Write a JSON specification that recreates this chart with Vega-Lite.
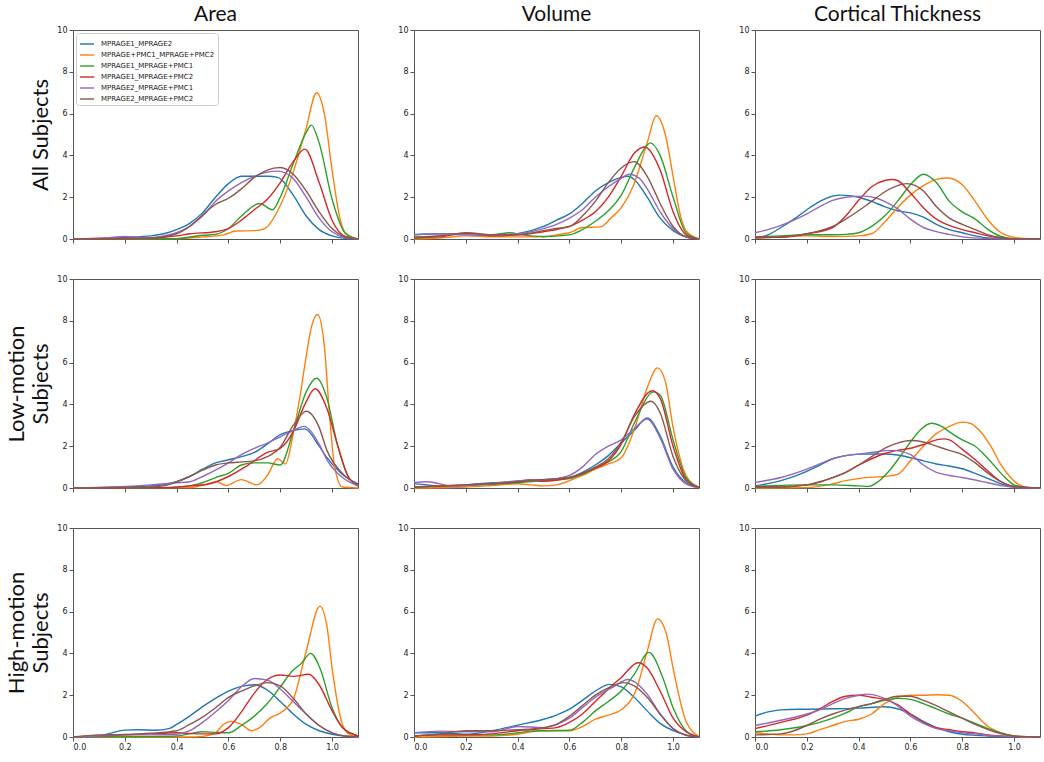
{
"$schema": "https://vega.github.io/schema/vega-lite/v6.json",
"padding": {"left": 5, "right": 2, "top": 3, "bottom": 1},
"background": "white",
"config": {
  "font": "DejaVu Sans",
  "view": {"stroke": "#555555", "strokeWidth": 1},
  "axis": {"domain": false, "grid": false, "tickColor": "#555555", "tickSize": 4, "labelFontSize": 8, "labelColor": "#222222", "labelPadding": 2, "titleFont": "Lato", "titleFontSize": 22, "titleFontWeight": "normal", "titleColor": "#111111", "titlePadding": 4},
  "title": {"font": "Lato", "fontSize": 21, "fontWeight": "normal", "color": "#111111", "offset": 1, "anchor": "middle"},
  "line": {"strokeWidth": 1.4, "interpolate": "monotone"}
},
"columns": 3,
"spacing": {"row": 30, "column": 35},
"resolve": {"scale": {"color": "independent"}, "legend": {"color": "independent"}},
"datasets": {
"names": [{"s":"A","series":"MPRAGE1_MPRAGE2"},{"s":"B","series":"MPRAGE+PMC1_MPRAGE+PMC2"},{"s":"C","series":"MPRAGE1_MPRAGE+PMC1"},{"s":"D","series":"MPRAGE1_MPRAGE+PMC2"},{"s":"E","series":"MPRAGE2_MPRAGE+PMC1"},{"s":"F","series":"MPRAGE2_MPRAGE+PMC2"}],
"a_all": [
{"s":"A","x":0,"y":0},{"s":"A","x":0.1,"y":0.02},{"s":"A","x":0.2,"y":0.08},{"s":"A","x":0.3,"y":0.15},{"s":"A","x":0.35,"y":0.25},{"s":"A","x":0.4,"y":0.45},{"s":"A","x":0.45,"y":0.75},{"s":"A","x":0.5,"y":1.25},{"s":"A","x":0.55,"y":2.0},{"s":"A","x":0.6,"y":2.65},{"s":"A","x":0.65,"y":3.0},{"s":"A","x":0.7,"y":3.0},{"s":"A","x":0.75,"y":3.0},{"s":"A","x":0.79,"y":2.95},{"s":"A","x":0.85,"y":2.1},{"s":"A","x":0.9,"y":1.1},{"s":"A","x":0.95,"y":0.45},{"s":"A","x":1.0,"y":0.15},{"s":"A","x":1.05,"y":0.03},{"s":"A","x":1.1,"y":0},
{"s":"B","x":0,"y":0},{"s":"B","x":0.4,"y":0.02},{"s":"B","x":0.5,"y":0.1},{"s":"B","x":0.58,"y":0.2},{"s":"B","x":0.63,"y":0.38},{"s":"B","x":0.7,"y":0.4},{"s":"B","x":0.74,"y":0.5},{"s":"B","x":0.8,"y":1.6},{"s":"B","x":0.85,"y":3.2},{"s":"B","x":0.9,"y":5.3},{"s":"B","x":0.94,"y":7.0},{"s":"B","x":0.97,"y":6.0},{"s":"B","x":1.0,"y":3.3},{"s":"B","x":1.03,"y":1.0},{"s":"B","x":1.06,"y":0.15},{"s":"B","x":1.1,"y":0},
{"s":"C","x":0,"y":0},{"s":"C","x":0.4,"y":0.02},{"s":"C","x":0.5,"y":0.18},{"s":"C","x":0.55,"y":0.22},{"s":"C","x":0.6,"y":0.5},{"s":"C","x":0.65,"y":1.1},{"s":"C","x":0.72,"y":1.7},{"s":"C","x":0.77,"y":1.4},{"s":"C","x":0.8,"y":2.0},{"s":"C","x":0.85,"y":3.6},{"s":"C","x":0.9,"y":5.1},{"s":"C","x":0.92,"y":5.45},{"s":"C","x":0.95,"y":4.6},{"s":"C","x":1.0,"y":1.9},{"s":"C","x":1.05,"y":0.3},{"s":"C","x":1.1,"y":0},
{"s":"D","x":0,"y":0},{"s":"D","x":0.3,"y":0.05},{"s":"D","x":0.4,"y":0.15},{"s":"D","x":0.45,"y":0.25},{"s":"D","x":0.55,"y":0.35},{"s":"D","x":0.6,"y":0.5},{"s":"D","x":0.65,"y":0.9},{"s":"D","x":0.7,"y":1.4},{"s":"D","x":0.75,"y":1.9},{"s":"D","x":0.8,"y":2.7},{"s":"D","x":0.85,"y":3.7},{"s":"D","x":0.895,"y":4.3},{"s":"D","x":0.95,"y":2.7},{"s":"D","x":1.0,"y":0.9},{"s":"D","x":1.05,"y":0.12},{"s":"D","x":1.1,"y":0},
{"s":"E","x":0,"y":0},{"s":"E","x":0.15,"y":0.08},{"s":"E","x":0.2,"y":0.12},{"s":"E","x":0.28,"y":0.05},{"s":"E","x":0.35,"y":0.15},{"s":"E","x":0.4,"y":0.3},{"s":"E","x":0.45,"y":0.6},{"s":"E","x":0.5,"y":1.1},{"s":"E","x":0.55,"y":1.8},{"s":"E","x":0.6,"y":2.3},{"s":"E","x":0.65,"y":2.7},{"s":"E","x":0.7,"y":3.0},{"s":"E","x":0.75,"y":3.2},{"s":"E","x":0.79,"y":3.25},{"s":"E","x":0.85,"y":2.9},{"s":"E","x":0.9,"y":2.0},{"s":"E","x":0.95,"y":1.0},{"s":"E","x":1.0,"y":0.35},{"s":"E","x":1.05,"y":0.07},{"s":"E","x":1.1,"y":0},
{"s":"F","x":0,"y":0},{"s":"F","x":0.3,"y":0.05},{"s":"F","x":0.4,"y":0.25},{"s":"F","x":0.45,"y":0.6},{"s":"F","x":0.5,"y":1.15},{"s":"F","x":0.55,"y":1.65},{"s":"F","x":0.6,"y":1.95},{"s":"F","x":0.65,"y":2.4},{"s":"F","x":0.7,"y":2.95},{"s":"F","x":0.75,"y":3.3},{"s":"F","x":0.8,"y":3.42},{"s":"F","x":0.85,"y":3.1},{"s":"F","x":0.9,"y":2.3},{"s":"F","x":0.95,"y":1.3},{"s":"F","x":1.0,"y":0.5},{"s":"F","x":1.05,"y":0.1},{"s":"F","x":1.1,"y":0}
],
"v_all": [
{"s":"A","x":0,"y":0.2},{"s":"A","x":0.1,"y":0.25},{"s":"A","x":0.2,"y":0.22},{"s":"A","x":0.3,"y":0.15},{"s":"A","x":0.4,"y":0.25},{"s":"A","x":0.5,"y":0.6},{"s":"A","x":0.55,"y":0.9},{"s":"A","x":0.6,"y":1.2},{"s":"A","x":0.65,"y":1.7},{"s":"A","x":0.7,"y":2.3},{"s":"A","x":0.75,"y":2.7},{"s":"A","x":0.8,"y":2.95},{"s":"A","x":0.825,"y":3.0},{"s":"A","x":0.85,"y":2.85},{"s":"A","x":0.9,"y":2.0},{"s":"A","x":0.95,"y":1.0},{"s":"A","x":1.0,"y":0.4},{"s":"A","x":1.05,"y":0.1},{"s":"A","x":1.1,"y":0},
{"s":"B","x":0,"y":0},{"s":"B","x":0.1,"y":0.05},{"s":"B","x":0.2,"y":0.15},{"s":"B","x":0.3,"y":0.1},{"s":"B","x":0.4,"y":0.1},{"s":"B","x":0.5,"y":0.1},{"s":"B","x":0.55,"y":0.2},{"s":"B","x":0.6,"y":0.3},{"s":"B","x":0.65,"y":0.55},{"s":"B","x":0.72,"y":0.58},{"s":"B","x":0.76,"y":1.0},{"s":"B","x":0.8,"y":1.5},{"s":"B","x":0.845,"y":2.5},{"s":"B","x":0.9,"y":4.6},{"s":"B","x":0.935,"y":5.9},{"s":"B","x":0.97,"y":5.0},{"s":"B","x":1.0,"y":3.0},{"s":"B","x":1.025,"y":1.3},{"s":"B","x":1.05,"y":0.4},{"s":"B","x":1.1,"y":0},
{"s":"C","x":0,"y":0.1},{"s":"C","x":0.1,"y":0.15},{"s":"C","x":0.2,"y":0.25},{"s":"C","x":0.3,"y":0.2},{"s":"C","x":0.37,"y":0.3},{"s":"C","x":0.42,"y":0.2},{"s":"C","x":0.5,"y":0.12},{"s":"C","x":0.6,"y":0.2},{"s":"C","x":0.65,"y":0.45},{"s":"C","x":0.7,"y":0.85},{"s":"C","x":0.75,"y":1.35},{"s":"C","x":0.8,"y":2.1},{"s":"C","x":0.85,"y":3.4},{"s":"C","x":0.9,"y":4.5},{"s":"C","x":0.912,"y":4.6},{"s":"C","x":0.95,"y":4.0},{"s":"C","x":1.0,"y":2.0},{"s":"C","x":1.05,"y":0.3},{"s":"C","x":1.1,"y":0},
{"s":"D","x":0,"y":0.05},{"s":"D","x":0.1,"y":0.15},{"s":"D","x":0.2,"y":0.28},{"s":"D","x":0.3,"y":0.15},{"s":"D","x":0.4,"y":0.2},{"s":"D","x":0.5,"y":0.35},{"s":"D","x":0.55,"y":0.45},{"s":"D","x":0.6,"y":0.6},{"s":"D","x":0.65,"y":0.9},{"s":"D","x":0.7,"y":1.3},{"s":"D","x":0.75,"y":2.0},{"s":"D","x":0.8,"y":3.0},{"s":"D","x":0.85,"y":4.1},{"s":"D","x":0.89,"y":4.4},{"s":"D","x":0.95,"y":3.3},{"s":"D","x":1.0,"y":1.3},{"s":"D","x":1.05,"y":0.2},{"s":"D","x":1.1,"y":0},
{"s":"E","x":0,"y":0.2},{"s":"E","x":0.1,"y":0.25},{"s":"E","x":0.2,"y":0.2},{"s":"E","x":0.3,"y":0.2},{"s":"E","x":0.4,"y":0.25},{"s":"E","x":0.5,"y":0.5},{"s":"E","x":0.55,"y":0.7},{"s":"E","x":0.6,"y":1.0},{"s":"E","x":0.65,"y":1.4},{"s":"E","x":0.7,"y":2.0},{"s":"E","x":0.75,"y":2.5},{"s":"E","x":0.8,"y":2.9},{"s":"E","x":0.83,"y":3.1},{"s":"E","x":0.87,"y":2.9},{"s":"E","x":0.9,"y":2.4},{"s":"E","x":0.95,"y":1.3},{"s":"E","x":1.0,"y":0.5},{"s":"E","x":1.05,"y":0.1},{"s":"E","x":1.1,"y":0},
{"s":"F","x":0,"y":0.05},{"s":"F","x":0.1,"y":0.1},{"s":"F","x":0.2,"y":0.3},{"s":"F","x":0.3,"y":0.2},{"s":"F","x":0.4,"y":0.2},{"s":"F","x":0.5,"y":0.4},{"s":"F","x":0.55,"y":0.5},{"s":"F","x":0.6,"y":0.6},{"s":"F","x":0.65,"y":1.1},{"s":"F","x":0.7,"y":1.8},{"s":"F","x":0.75,"y":2.7},{"s":"F","x":0.8,"y":3.4},{"s":"F","x":0.85,"y":3.7},{"s":"F","x":0.9,"y":3.0},{"s":"F","x":0.95,"y":1.7},{"s":"F","x":1.0,"y":0.6},{"s":"F","x":1.05,"y":0.1},{"s":"F","x":1.1,"y":0}
],
"c_all": [
{"s":"A","x":0,"y":0.05},{"s":"A","x":0.05,"y":0.2},{"s":"A","x":0.1,"y":0.55},{"s":"A","x":0.15,"y":0.95},{"s":"A","x":0.2,"y":1.4},{"s":"A","x":0.25,"y":1.8},{"s":"A","x":0.3,"y":2.05},{"s":"A","x":0.33,"y":2.1},{"s":"A","x":0.4,"y":2.0},{"s":"A","x":0.45,"y":1.8},{"s":"A","x":0.5,"y":1.55},{"s":"A","x":0.55,"y":1.35},{"s":"A","x":0.6,"y":1.25},{"s":"A","x":0.65,"y":1.05},{"s":"A","x":0.7,"y":0.7},{"s":"A","x":0.75,"y":0.45},{"s":"A","x":0.8,"y":0.3},{"s":"A","x":0.85,"y":0.15},{"s":"A","x":0.9,"y":0.05},{"s":"A","x":1.0,"y":0},{"s":"A","x":1.1,"y":0},
{"s":"B","x":0,"y":0.05},{"s":"B","x":0.1,"y":0.1},{"s":"B","x":0.2,"y":0.15},{"s":"B","x":0.3,"y":0.12},{"s":"B","x":0.4,"y":0.15},{"s":"B","x":0.45,"y":0.25},{"s":"B","x":0.5,"y":0.8},{"s":"B","x":0.55,"y":1.5},{"s":"B","x":0.6,"y":2.1},{"s":"B","x":0.65,"y":2.55},{"s":"B","x":0.7,"y":2.85},{"s":"B","x":0.745,"y":2.92},{"s":"B","x":0.8,"y":2.6},{"s":"B","x":0.85,"y":1.8},{"s":"B","x":0.9,"y":0.9},{"s":"B","x":0.95,"y":0.3},{"s":"B","x":1.0,"y":0.08},{"s":"B","x":1.05,"y":0.02},{"s":"B","x":1.1,"y":0},
{"s":"C","x":0,"y":0.1},{"s":"C","x":0.1,"y":0.15},{"s":"C","x":0.2,"y":0.2},{"s":"C","x":0.3,"y":0.2},{"s":"C","x":0.35,"y":0.22},{"s":"C","x":0.4,"y":0.3},{"s":"C","x":0.45,"y":0.6},{"s":"C","x":0.5,"y":1.1},{"s":"C","x":0.55,"y":1.8},{"s":"C","x":0.6,"y":2.6},{"s":"C","x":0.65,"y":3.1},{"s":"C","x":0.7,"y":2.7},{"s":"C","x":0.75,"y":1.8},{"s":"C","x":0.8,"y":1.3},{"s":"C","x":0.85,"y":0.95},{"s":"C","x":0.9,"y":0.45},{"s":"C","x":0.95,"y":0.12},{"s":"C","x":1.0,"y":0.02},{"s":"C","x":1.1,"y":0},
{"s":"D","x":0,"y":0.1},{"s":"D","x":0.1,"y":0.08},{"s":"D","x":0.2,"y":0.25},{"s":"D","x":0.3,"y":0.55},{"s":"D","x":0.35,"y":1.1},{"s":"D","x":0.4,"y":1.85},{"s":"D","x":0.45,"y":2.5},{"s":"D","x":0.5,"y":2.8},{"s":"D","x":0.53,"y":2.85},{"s":"D","x":0.55,"y":2.8},{"s":"D","x":0.6,"y":2.2},{"s":"D","x":0.65,"y":1.5},{"s":"D","x":0.7,"y":0.95},{"s":"D","x":0.75,"y":0.65},{"s":"D","x":0.8,"y":0.45},{"s":"D","x":0.85,"y":0.3},{"s":"D","x":0.9,"y":0.15},{"s":"D","x":0.95,"y":0.05},{"s":"D","x":1.0,"y":0},{"s":"D","x":1.1,"y":0},
{"s":"E","x":0,"y":0.3},{"s":"E","x":0.05,"y":0.45},{"s":"E","x":0.1,"y":0.65},{"s":"E","x":0.15,"y":0.9},{"s":"E","x":0.2,"y":1.2},{"s":"E","x":0.25,"y":1.55},{"s":"E","x":0.3,"y":1.85},{"s":"E","x":0.35,"y":2.0},{"s":"E","x":0.42,"y":2.05},{"s":"E","x":0.47,"y":1.95},{"s":"E","x":0.5,"y":1.8},{"s":"E","x":0.55,"y":1.45},{"s":"E","x":0.6,"y":0.95},{"s":"E","x":0.65,"y":0.55},{"s":"E","x":0.7,"y":0.35},{"s":"E","x":0.75,"y":0.22},{"s":"E","x":0.8,"y":0.1},{"s":"E","x":0.9,"y":0.02},{"s":"E","x":1.0,"y":0},{"s":"E","x":1.1,"y":0},
{"s":"F","x":0,"y":0.05},{"s":"F","x":0.1,"y":0.1},{"s":"F","x":0.2,"y":0.25},{"s":"F","x":0.3,"y":0.6},{"s":"F","x":0.35,"y":0.95},{"s":"F","x":0.4,"y":1.35},{"s":"F","x":0.45,"y":1.8},{"s":"F","x":0.5,"y":2.25},{"s":"F","x":0.55,"y":2.55},{"s":"F","x":0.585,"y":2.65},{"s":"F","x":0.65,"y":2.3},{"s":"F","x":0.7,"y":1.55},{"s":"F","x":0.75,"y":1.0},{"s":"F","x":0.8,"y":0.7},{"s":"F","x":0.85,"y":0.45},{"s":"F","x":0.9,"y":0.2},{"s":"F","x":0.95,"y":0.06},{"s":"F","x":1.0,"y":0},{"s":"F","x":1.1,"y":0}
],
"a_low": [
{"s":"A","x":0,"y":0},{"s":"A","x":0.1,"y":0.02},{"s":"A","x":0.2,"y":0.05},{"s":"A","x":0.3,"y":0.1},{"s":"A","x":0.4,"y":0.3},{"s":"A","x":0.45,"y":0.55},{"s":"A","x":0.5,"y":0.9},{"s":"A","x":0.55,"y":1.2},{"s":"A","x":0.6,"y":1.35},{"s":"A","x":0.65,"y":1.5},{"s":"A","x":0.7,"y":1.7},{"s":"A","x":0.75,"y":2.1},{"s":"A","x":0.8,"y":2.55},{"s":"A","x":0.85,"y":2.75},{"s":"A","x":0.895,"y":2.83},{"s":"A","x":0.95,"y":2.0},{"s":"A","x":0.98,"y":1.45},{"s":"A","x":1.04,"y":0.65},{"s":"A","x":1.1,"y":0.2},
{"s":"B","x":0,"y":0},{"s":"B","x":0.45,"y":0.02},{"s":"B","x":0.52,"y":0.2},{"s":"B","x":0.555,"y":0.3},{"s":"B","x":0.59,"y":0.12},{"s":"B","x":0.65,"y":0.4},{"s":"B","x":0.71,"y":0.15},{"s":"B","x":0.75,"y":0.6},{"s":"B","x":0.79,"y":1.4},{"s":"B","x":0.82,"y":1.15},{"s":"B","x":0.85,"y":2.6},{"s":"B","x":0.875,"y":4.3},{"s":"B","x":0.9,"y":6.3},{"s":"B","x":0.92,"y":7.7},{"s":"B","x":0.944,"y":8.3},{"s":"B","x":0.97,"y":6.8},{"s":"B","x":0.99,"y":3.5},{"s":"B","x":1.01,"y":1.0},{"s":"B","x":1.04,"y":0.05},{"s":"B","x":1.1,"y":0},
{"s":"C","x":0,"y":0},{"s":"C","x":0.35,"y":0.02},{"s":"C","x":0.45,"y":0.1},{"s":"C","x":0.5,"y":0.25},{"s":"C","x":0.55,"y":0.5},{"s":"C","x":0.6,"y":0.7},{"s":"C","x":0.65,"y":1.1},{"s":"C","x":0.7,"y":1.2},{"s":"C","x":0.75,"y":1.2},{"s":"C","x":0.8,"y":1.1},{"s":"C","x":0.85,"y":2.7},{"s":"C","x":0.9,"y":4.6},{"s":"C","x":0.94,"y":5.25},{"s":"C","x":0.98,"y":4.3},{"s":"C","x":1.02,"y":2.1},{"s":"C","x":1.06,"y":0.6},{"s":"C","x":1.1,"y":0.1},
{"s":"D","x":0,"y":0},{"s":"D","x":0.35,"y":0.02},{"s":"D","x":0.45,"y":0.1},{"s":"D","x":0.52,"y":0.18},{"s":"D","x":0.6,"y":0.55},{"s":"D","x":0.67,"y":1.05},{"s":"D","x":0.75,"y":1.7},{"s":"D","x":0.8,"y":1.9},{"s":"D","x":0.85,"y":2.7},{"s":"D","x":0.895,"y":4.0},{"s":"D","x":0.934,"y":4.75},{"s":"D","x":0.98,"y":3.8},{"s":"D","x":1.02,"y":2.1},{"s":"D","x":1.06,"y":0.6},{"s":"D","x":1.1,"y":0.1},
{"s":"E","x":0,"y":0},{"s":"E","x":0.15,"y":0.05},{"s":"E","x":0.3,"y":0.15},{"s":"E","x":0.4,"y":0.25},{"s":"E","x":0.45,"y":0.3},{"s":"E","x":0.5,"y":0.55},{"s":"E","x":0.55,"y":0.85},{"s":"E","x":0.6,"y":1.2},{"s":"E","x":0.65,"y":1.6},{"s":"E","x":0.7,"y":1.9},{"s":"E","x":0.75,"y":2.15},{"s":"E","x":0.8,"y":2.45},{"s":"E","x":0.85,"y":2.75},{"s":"E","x":0.89,"y":2.95},{"s":"E","x":0.95,"y":2.1},{"s":"E","x":0.98,"y":1.35},{"s":"E","x":1.04,"y":0.5},{"s":"E","x":1.1,"y":0.1},
{"s":"F","x":0,"y":0},{"s":"F","x":0.3,"y":0.05},{"s":"F","x":0.35,"y":0.1},{"s":"F","x":0.4,"y":0.3},{"s":"F","x":0.45,"y":0.55},{"s":"F","x":0.5,"y":0.85},{"s":"F","x":0.55,"y":1.1},{"s":"F","x":0.6,"y":1.2},{"s":"F","x":0.65,"y":1.25},{"s":"F","x":0.7,"y":1.3},{"s":"F","x":0.75,"y":1.5},{"s":"F","x":0.8,"y":1.95},{"s":"F","x":0.85,"y":3.0},{"s":"F","x":0.9,"y":3.67},{"s":"F","x":0.95,"y":2.9},{"s":"F","x":0.98,"y":1.8},{"s":"F","x":1.04,"y":0.7},{"s":"F","x":1.1,"y":0.15}
],
"v_low": [
{"s":"A","x":0,"y":0.2},{"s":"A","x":0.05,"y":0.15},{"s":"A","x":0.1,"y":0.08},{"s":"A","x":0.2,"y":0.15},{"s":"A","x":0.3,"y":0.25},{"s":"A","x":0.4,"y":0.3},{"s":"A","x":0.5,"y":0.4},{"s":"A","x":0.6,"y":0.5},{"s":"A","x":0.65,"y":0.75},{"s":"A","x":0.7,"y":1.1},{"s":"A","x":0.75,"y":1.55},{"s":"A","x":0.8,"y":2.15},{"s":"A","x":0.85,"y":2.75},{"s":"A","x":0.9,"y":3.35},{"s":"A","x":0.95,"y":2.5},{"s":"A","x":1.0,"y":1.0},{"s":"A","x":1.05,"y":0.25},{"s":"A","x":1.1,"y":0.02},
{"s":"B","x":0,"y":0},{"s":"B","x":0.2,"y":0.05},{"s":"B","x":0.3,"y":0.12},{"s":"B","x":0.4,"y":0.2},{"s":"B","x":0.45,"y":0.15},{"s":"B","x":0.5,"y":0.1},{"s":"B","x":0.55,"y":0.15},{"s":"B","x":0.6,"y":0.35},{"s":"B","x":0.65,"y":0.6},{"s":"B","x":0.7,"y":0.9},{"s":"B","x":0.75,"y":1.15},{"s":"B","x":0.8,"y":1.45},{"s":"B","x":0.85,"y":2.8},{"s":"B","x":0.9,"y":4.8},{"s":"B","x":0.94,"y":5.75},{"s":"B","x":0.97,"y":5.1},{"s":"B","x":1.0,"y":2.9},{"s":"B","x":1.05,"y":0.6},{"s":"B","x":1.1,"y":0.03},
{"s":"C","x":0,"y":0.05},{"s":"C","x":0.1,"y":0.08},{"s":"C","x":0.2,"y":0.12},{"s":"C","x":0.3,"y":0.18},{"s":"C","x":0.4,"y":0.25},{"s":"C","x":0.5,"y":0.35},{"s":"C","x":0.6,"y":0.45},{"s":"C","x":0.65,"y":0.65},{"s":"C","x":0.7,"y":0.95},{"s":"C","x":0.75,"y":1.25},{"s":"C","x":0.8,"y":1.75},{"s":"C","x":0.85,"y":3.1},{"s":"C","x":0.925,"y":4.6},{"s":"C","x":0.95,"y":4.45},{"s":"C","x":1.0,"y":2.3},{"s":"C","x":1.05,"y":0.5},{"s":"C","x":1.1,"y":0.03},
{"s":"D","x":0,"y":0.05},{"s":"D","x":0.1,"y":0.1},{"s":"D","x":0.2,"y":0.15},{"s":"D","x":0.3,"y":0.2},{"s":"D","x":0.4,"y":0.3},{"s":"D","x":0.45,"y":0.4},{"s":"D","x":0.5,"y":0.32},{"s":"D","x":0.6,"y":0.5},{"s":"D","x":0.65,"y":0.7},{"s":"D","x":0.7,"y":0.95},{"s":"D","x":0.75,"y":1.3},{"s":"D","x":0.8,"y":2.1},{"s":"D","x":0.85,"y":3.5},{"s":"D","x":0.92,"y":4.65},{"s":"D","x":0.95,"y":4.3},{"s":"D","x":1.0,"y":2.0},{"s":"D","x":1.05,"y":0.4},{"s":"D","x":1.1,"y":0.03},
{"s":"E","x":0,"y":0.25},{"s":"E","x":0.05,"y":0.3},{"s":"E","x":0.1,"y":0.2},{"s":"E","x":0.15,"y":0.08},{"s":"E","x":0.2,"y":0.12},{"s":"E","x":0.3,"y":0.2},{"s":"E","x":0.4,"y":0.35},{"s":"E","x":0.5,"y":0.4},{"s":"E","x":0.55,"y":0.45},{"s":"E","x":0.6,"y":0.6},{"s":"E","x":0.65,"y":1.0},{"s":"E","x":0.7,"y":1.6},{"s":"E","x":0.75,"y":2.0},{"s":"E","x":0.8,"y":2.3},{"s":"E","x":0.85,"y":2.85},{"s":"E","x":0.9,"y":3.3},{"s":"E","x":0.95,"y":2.4},{"s":"E","x":1.0,"y":0.9},{"s":"E","x":1.05,"y":0.2},{"s":"E","x":1.1,"y":0.02},
{"s":"F","x":0,"y":0.05},{"s":"F","x":0.1,"y":0.1},{"s":"F","x":0.2,"y":0.15},{"s":"F","x":0.3,"y":0.2},{"s":"F","x":0.4,"y":0.3},{"s":"F","x":0.5,"y":0.4},{"s":"F","x":0.6,"y":0.5},{"s":"F","x":0.65,"y":0.7},{"s":"F","x":0.7,"y":1.0},{"s":"F","x":0.75,"y":1.4},{"s":"F","x":0.8,"y":2.2},{"s":"F","x":0.85,"y":3.4},{"s":"F","x":0.915,"y":4.15},{"s":"F","x":0.95,"y":3.6},{"s":"F","x":1.0,"y":1.5},{"s":"F","x":1.05,"y":0.35},{"s":"F","x":1.1,"y":0.03}
],
"c_low": [
{"s":"A","x":0,"y":0.1},{"s":"A","x":0.1,"y":0.35},{"s":"A","x":0.2,"y":0.8},{"s":"A","x":0.25,"y":1.1},{"s":"A","x":0.3,"y":1.4},{"s":"A","x":0.35,"y":1.55},{"s":"A","x":0.4,"y":1.62},{"s":"A","x":0.5,"y":1.63},{"s":"A","x":0.55,"y":1.58},{"s":"A","x":0.6,"y":1.45},{"s":"A","x":0.65,"y":1.3},{"s":"A","x":0.7,"y":1.15},{"s":"A","x":0.75,"y":1.05},{"s":"A","x":0.8,"y":0.92},{"s":"A","x":0.85,"y":0.7},{"s":"A","x":0.9,"y":0.45},{"s":"A","x":0.95,"y":0.2},{"s":"A","x":1.0,"y":0.05},{"s":"A","x":1.1,"y":0},
{"s":"B","x":0,"y":0},{"s":"B","x":0.2,"y":0.02},{"s":"B","x":0.3,"y":0.2},{"s":"B","x":0.35,"y":0.35},{"s":"B","x":0.4,"y":0.45},{"s":"B","x":0.45,"y":0.52},{"s":"B","x":0.5,"y":0.55},{"s":"B","x":0.55,"y":0.65},{"s":"B","x":0.6,"y":1.3},{"s":"B","x":0.65,"y":2.0},{"s":"B","x":0.7,"y":2.6},{"s":"B","x":0.75,"y":2.95},{"s":"B","x":0.8,"y":3.15},{"s":"B","x":0.83,"y":3.1},{"s":"B","x":0.87,"y":2.7},{"s":"B","x":0.91,"y":2.0},{"s":"B","x":0.95,"y":1.1},{"s":"B","x":0.98,"y":0.6},{"s":"B","x":1.02,"y":0.15},{"s":"B","x":1.06,"y":0.02},{"s":"B","x":1.1,"y":0},
{"s":"C","x":0,"y":0.08},{"s":"C","x":0.2,"y":0.15},{"s":"C","x":0.3,"y":0.15},{"s":"C","x":0.4,"y":0.1},{"s":"C","x":0.44,"y":0.08},{"s":"C","x":0.48,"y":0.35},{"s":"C","x":0.52,"y":0.85},{"s":"C","x":0.56,"y":1.5},{"s":"C","x":0.6,"y":2.2},{"s":"C","x":0.64,"y":2.8},{"s":"C","x":0.68,"y":3.1},{"s":"C","x":0.72,"y":2.95},{"s":"C","x":0.76,"y":2.6},{"s":"C","x":0.8,"y":2.3},{"s":"C","x":0.85,"y":2.0},{"s":"C","x":0.9,"y":1.4},{"s":"C","x":0.95,"y":0.7},{"s":"C","x":1.0,"y":0.15},{"s":"C","x":1.05,"y":0.02},{"s":"C","x":1.1,"y":0},
{"s":"D","x":0,"y":0.05},{"s":"D","x":0.1,"y":0.05},{"s":"D","x":0.2,"y":0.15},{"s":"D","x":0.25,"y":0.28},{"s":"D","x":0.3,"y":0.5},{"s":"D","x":0.35,"y":0.75},{"s":"D","x":0.4,"y":1.1},{"s":"D","x":0.45,"y":1.4},{"s":"D","x":0.5,"y":1.65},{"s":"D","x":0.55,"y":1.8},{"s":"D","x":0.6,"y":1.9},{"s":"D","x":0.65,"y":2.08},{"s":"D","x":0.7,"y":2.3},{"s":"D","x":0.73,"y":2.35},{"s":"D","x":0.75,"y":2.3},{"s":"D","x":0.8,"y":1.85},{"s":"D","x":0.85,"y":1.35},{"s":"D","x":0.9,"y":0.8},{"s":"D","x":0.95,"y":0.3},{"s":"D","x":1.0,"y":0.07},{"s":"D","x":1.1,"y":0},
{"s":"E","x":0,"y":0.27},{"s":"E","x":0.1,"y":0.5},{"s":"E","x":0.2,"y":0.9},{"s":"E","x":0.25,"y":1.15},{"s":"E","x":0.3,"y":1.4},{"s":"E","x":0.35,"y":1.55},{"s":"E","x":0.4,"y":1.62},{"s":"E","x":0.45,"y":1.7},{"s":"E","x":0.53,"y":1.8},{"s":"E","x":0.6,"y":1.6},{"s":"E","x":0.65,"y":1.1},{"s":"E","x":0.7,"y":0.75},{"s":"E","x":0.75,"y":0.6},{"s":"E","x":0.8,"y":0.5},{"s":"E","x":0.85,"y":0.38},{"s":"E","x":0.9,"y":0.25},{"s":"E","x":0.95,"y":0.12},{"s":"E","x":1.0,"y":0.03},{"s":"E","x":1.1,"y":0},
{"s":"F","x":0,"y":0.05},{"s":"F","x":0.1,"y":0.05},{"s":"F","x":0.2,"y":0.15},{"s":"F","x":0.25,"y":0.3},{"s":"F","x":0.3,"y":0.5},{"s":"F","x":0.35,"y":0.75},{"s":"F","x":0.4,"y":1.1},{"s":"F","x":0.45,"y":1.5},{"s":"F","x":0.5,"y":1.9},{"s":"F","x":0.55,"y":2.15},{"s":"F","x":0.6,"y":2.27},{"s":"F","x":0.65,"y":2.2},{"s":"F","x":0.7,"y":2.0},{"s":"F","x":0.75,"y":1.8},{"s":"F","x":0.8,"y":1.6},{"s":"F","x":0.85,"y":1.2},{"s":"F","x":0.9,"y":0.7},{"s":"F","x":0.95,"y":0.3},{"s":"F","x":1.0,"y":0.07},{"s":"F","x":1.1,"y":0}
],
"a_high": [
{"s":"A","x":0,"y":0},{"s":"A","x":0.1,"y":0.05},{"s":"A","x":0.15,"y":0.2},{"s":"A","x":0.2,"y":0.33},{"s":"A","x":0.25,"y":0.35},{"s":"A","x":0.32,"y":0.32},{"s":"A","x":0.37,"y":0.4},{"s":"A","x":0.4,"y":0.6},{"s":"A","x":0.45,"y":1.0},{"s":"A","x":0.5,"y":1.45},{"s":"A","x":0.55,"y":1.85},{"s":"A","x":0.6,"y":2.2},{"s":"A","x":0.65,"y":2.42},{"s":"A","x":0.7,"y":2.5},{"s":"A","x":0.75,"y":2.25},{"s":"A","x":0.8,"y":1.7},{"s":"A","x":0.85,"y":1.1},{"s":"A","x":0.9,"y":0.6},{"s":"A","x":0.95,"y":0.3},{"s":"A","x":1.0,"y":0.13},{"s":"A","x":1.05,"y":0.04},{"s":"A","x":1.1,"y":0},
{"s":"B","x":0,"y":0},{"s":"B","x":0.45,"y":0},{"s":"B","x":0.5,"y":0.03},{"s":"B","x":0.55,"y":0.2},{"s":"B","x":0.58,"y":0.6},{"s":"B","x":0.61,"y":0.75},{"s":"B","x":0.65,"y":0.6},{"s":"B","x":0.69,"y":0.3},{"s":"B","x":0.72,"y":0.45},{"s":"B","x":0.76,"y":0.9},{"s":"B","x":0.8,"y":1.15},{"s":"B","x":0.85,"y":1.8},{"s":"B","x":0.9,"y":4.1},{"s":"B","x":0.953,"y":6.25},{"s":"B","x":0.98,"y":5.3},{"s":"B","x":1.0,"y":3.3},{"s":"B","x":1.04,"y":0.6},{"s":"B","x":1.07,"y":0.1},{"s":"B","x":1.1,"y":0},
{"s":"C","x":0,"y":0},{"s":"C","x":0.3,"y":0.02},{"s":"C","x":0.4,"y":0.05},{"s":"C","x":0.45,"y":0.15},{"s":"C","x":0.5,"y":0.25},{"s":"C","x":0.55,"y":0.22},{"s":"C","x":0.6,"y":0.2},{"s":"C","x":0.65,"y":0.55},{"s":"C","x":0.7,"y":1.0},{"s":"C","x":0.75,"y":1.6},{"s":"C","x":0.8,"y":2.4},{"s":"C","x":0.85,"y":3.2},{"s":"C","x":0.88,"y":3.5},{"s":"C","x":0.917,"y":4.0},{"s":"C","x":0.953,"y":3.3},{"s":"C","x":1.0,"y":1.4},{"s":"C","x":1.04,"y":0.45},{"s":"C","x":1.1,"y":0.05},
{"s":"D","x":0,"y":0},{"s":"D","x":0.1,"y":0.05},{"s":"D","x":0.2,"y":0.1},{"s":"D","x":0.3,"y":0.15},{"s":"D","x":0.4,"y":0.2},{"s":"D","x":0.5,"y":0.15},{"s":"D","x":0.55,"y":0.15},{"s":"D","x":0.6,"y":0.45},{"s":"D","x":0.65,"y":1.2},{"s":"D","x":0.7,"y":2.1},{"s":"D","x":0.75,"y":2.75},{"s":"D","x":0.8,"y":2.97},{"s":"D","x":0.85,"y":2.9},{"s":"D","x":0.91,"y":3.0},{"s":"D","x":0.95,"y":2.5},{"s":"D","x":1.0,"y":1.25},{"s":"D","x":1.04,"y":0.45},{"s":"D","x":1.1,"y":0.05},
{"s":"E","x":0,"y":0},{"s":"E","x":0.1,"y":0.05},{"s":"E","x":0.2,"y":0.1},{"s":"E","x":0.3,"y":0.1},{"s":"E","x":0.4,"y":0.13},{"s":"E","x":0.45,"y":0.3},{"s":"E","x":0.5,"y":0.7},{"s":"E","x":0.55,"y":1.2},{"s":"E","x":0.6,"y":1.75},{"s":"E","x":0.65,"y":2.4},{"s":"E","x":0.7,"y":2.8},{"s":"E","x":0.75,"y":2.72},{"s":"E","x":0.8,"y":2.3},{"s":"E","x":0.85,"y":1.7},{"s":"E","x":0.9,"y":1.1},{"s":"E","x":0.95,"y":0.55},{"s":"E","x":1.0,"y":0.2},{"s":"E","x":1.05,"y":0.05},{"s":"E","x":1.1,"y":0},
{"s":"F","x":0,"y":0},{"s":"F","x":0.1,"y":0.1},{"s":"F","x":0.2,"y":0.12},{"s":"F","x":0.3,"y":0.18},{"s":"F","x":0.4,"y":0.3},{"s":"F","x":0.45,"y":0.6},{"s":"F","x":0.5,"y":0.95},{"s":"F","x":0.55,"y":1.4},{"s":"F","x":0.6,"y":1.9},{"s":"F","x":0.65,"y":2.2},{"s":"F","x":0.7,"y":2.45},{"s":"F","x":0.75,"y":2.6},{"s":"F","x":0.8,"y":2.45},{"s":"F","x":0.85,"y":1.85},{"s":"F","x":0.9,"y":1.1},{"s":"F","x":0.95,"y":0.55},{"s":"F","x":1.0,"y":0.2},{"s":"F","x":1.05,"y":0.05},{"s":"F","x":1.1,"y":0}
],
"v_high": [
{"s":"A","x":0,"y":0.2},{"s":"A","x":0.1,"y":0.2},{"s":"A","x":0.2,"y":0.13},{"s":"A","x":0.3,"y":0.3},{"s":"A","x":0.4,"y":0.57},{"s":"A","x":0.5,"y":0.85},{"s":"A","x":0.55,"y":1.05},{"s":"A","x":0.6,"y":1.33},{"s":"A","x":0.65,"y":1.75},{"s":"A","x":0.7,"y":2.2},{"s":"A","x":0.755,"y":2.52},{"s":"A","x":0.8,"y":2.4},{"s":"A","x":0.85,"y":1.9},{"s":"A","x":0.9,"y":1.25},{"s":"A","x":0.95,"y":0.65},{"s":"A","x":1.0,"y":0.3},{"s":"A","x":1.05,"y":0.1},{"s":"A","x":1.1,"y":0},
{"s":"B","x":0,"y":0},{"s":"B","x":0.1,"y":0.02},{"s":"B","x":0.2,"y":0.05},{"s":"B","x":0.3,"y":0.05},{"s":"B","x":0.4,"y":0.13},{"s":"B","x":0.45,"y":0.25},{"s":"B","x":0.5,"y":0.3},{"s":"B","x":0.6,"y":0.3},{"s":"B","x":0.65,"y":0.5},{"s":"B","x":0.7,"y":0.85},{"s":"B","x":0.75,"y":1.05},{"s":"B","x":0.8,"y":1.3},{"s":"B","x":0.86,"y":2.35},{"s":"B","x":0.9,"y":4.1},{"s":"B","x":0.94,"y":5.65},{"s":"B","x":0.975,"y":4.9},{"s":"B","x":1.0,"y":3.3},{"s":"B","x":1.05,"y":0.75},{"s":"B","x":1.1,"y":0.03},
{"s":"C","x":0,"y":0.05},{"s":"C","x":0.1,"y":0.1},{"s":"C","x":0.2,"y":0.1},{"s":"C","x":0.3,"y":0.1},{"s":"C","x":0.4,"y":0.2},{"s":"C","x":0.45,"y":0.28},{"s":"C","x":0.5,"y":0.3},{"s":"C","x":0.6,"y":0.32},{"s":"C","x":0.65,"y":0.7},{"s":"C","x":0.7,"y":1.25},{"s":"C","x":0.75,"y":1.7},{"s":"C","x":0.8,"y":2.2},{"s":"C","x":0.85,"y":3.0},{"s":"C","x":0.907,"y":4.05},{"s":"C","x":0.96,"y":2.85},{"s":"C","x":1.0,"y":1.4},{"s":"C","x":1.05,"y":0.3},{"s":"C","x":1.1,"y":0},
{"s":"D","x":0,"y":0.05},{"s":"D","x":0.1,"y":0.1},{"s":"D","x":0.2,"y":0.1},{"s":"D","x":0.3,"y":0.15},{"s":"D","x":0.4,"y":0.3},{"s":"D","x":0.5,"y":0.4},{"s":"D","x":0.55,"y":0.45},{"s":"D","x":0.6,"y":0.7},{"s":"D","x":0.65,"y":1.1},{"s":"D","x":0.7,"y":1.7},{"s":"D","x":0.75,"y":2.3},{"s":"D","x":0.8,"y":2.85},{"s":"D","x":0.865,"y":3.55},{"s":"D","x":0.9,"y":3.3},{"s":"D","x":0.95,"y":2.2},{"s":"D","x":1.0,"y":0.9},{"s":"D","x":1.05,"y":0.25},{"s":"D","x":1.1,"y":0},
{"s":"E","x":0,"y":0.2},{"s":"E","x":0.1,"y":0.28},{"s":"E","x":0.2,"y":0.25},{"s":"E","x":0.3,"y":0.25},{"s":"E","x":0.4,"y":0.5},{"s":"E","x":0.5,"y":0.45},{"s":"E","x":0.55,"y":0.6},{"s":"E","x":0.6,"y":0.9},{"s":"E","x":0.65,"y":1.4},{"s":"E","x":0.7,"y":1.9},{"s":"E","x":0.77,"y":2.4},{"s":"E","x":0.826,"y":2.75},{"s":"E","x":0.9,"y":2.05},{"s":"E","x":0.95,"y":1.1},{"s":"E","x":1.0,"y":0.4},{"s":"E","x":1.05,"y":0.08},{"s":"E","x":1.1,"y":0},
{"s":"F","x":0,"y":0.05},{"s":"F","x":0.1,"y":0.15},{"s":"F","x":0.2,"y":0.3},{"s":"F","x":0.3,"y":0.3},{"s":"F","x":0.4,"y":0.35},{"s":"F","x":0.5,"y":0.45},{"s":"F","x":0.55,"y":0.6},{"s":"F","x":0.6,"y":1.0},{"s":"F","x":0.65,"y":1.5},{"s":"F","x":0.7,"y":2.0},{"s":"F","x":0.75,"y":2.35},{"s":"F","x":0.81,"y":2.6},{"s":"F","x":0.85,"y":2.45},{"s":"F","x":0.9,"y":1.9},{"s":"F","x":0.95,"y":1.1},{"s":"F","x":1.0,"y":0.4},{"s":"F","x":1.05,"y":0.08},{"s":"F","x":1.1,"y":0}
],
"c_high": [
{"s":"A","x":0,"y":1.0},{"s":"A","x":0.05,"y":1.2},{"s":"A","x":0.1,"y":1.3},{"s":"A","x":0.2,"y":1.33},{"s":"A","x":0.3,"y":1.35},{"s":"A","x":0.4,"y":1.38},{"s":"A","x":0.5,"y":1.45},{"s":"A","x":0.55,"y":1.35},{"s":"A","x":0.6,"y":1.1},{"s":"A","x":0.65,"y":0.75},{"s":"A","x":0.7,"y":0.45},{"s":"A","x":0.75,"y":0.25},{"s":"A","x":0.8,"y":0.13},{"s":"A","x":0.85,"y":0.08},{"s":"A","x":0.9,"y":0.05},{"s":"A","x":1.0,"y":0.01},{"s":"A","x":1.1,"y":0},
{"s":"B","x":0,"y":0.2},{"s":"B","x":0.05,"y":0.15},{"s":"B","x":0.1,"y":0.1},{"s":"B","x":0.15,"y":0.1},{"s":"B","x":0.2,"y":0.15},{"s":"B","x":0.25,"y":0.35},{"s":"B","x":0.3,"y":0.55},{"s":"B","x":0.35,"y":0.75},{"s":"B","x":0.4,"y":0.85},{"s":"B","x":0.45,"y":1.1},{"s":"B","x":0.5,"y":1.6},{"s":"B","x":0.55,"y":1.9},{"s":"B","x":0.6,"y":2.0},{"s":"B","x":0.65,"y":2.0},{"s":"B","x":0.7,"y":2.02},{"s":"B","x":0.75,"y":2.0},{"s":"B","x":0.8,"y":1.7},{"s":"B","x":0.85,"y":1.1},{"s":"B","x":0.9,"y":0.5},{"s":"B","x":0.95,"y":0.2},{"s":"B","x":1.0,"y":0.05},{"s":"B","x":1.05,"y":0},{"s":"B","x":1.1,"y":0},
{"s":"C","x":0,"y":0.25},{"s":"C","x":0.1,"y":0.35},{"s":"C","x":0.2,"y":0.55},{"s":"C","x":0.25,"y":0.7},{"s":"C","x":0.3,"y":0.9},{"s":"C","x":0.35,"y":1.15},{"s":"C","x":0.4,"y":1.45},{"s":"C","x":0.45,"y":1.6},{"s":"C","x":0.5,"y":1.75},{"s":"C","x":0.55,"y":1.85},{"s":"C","x":0.6,"y":1.8},{"s":"C","x":0.65,"y":1.6},{"s":"C","x":0.7,"y":1.35},{"s":"C","x":0.75,"y":1.1},{"s":"C","x":0.8,"y":0.9},{"s":"C","x":0.85,"y":0.65},{"s":"C","x":0.9,"y":0.4},{"s":"C","x":0.95,"y":0.2},{"s":"C","x":1.0,"y":0.05},{"s":"C","x":1.1,"y":0},
{"s":"D","x":0,"y":0.4},{"s":"D","x":0.1,"y":0.7},{"s":"D","x":0.2,"y":1.05},{"s":"D","x":0.25,"y":1.35},{"s":"D","x":0.3,"y":1.7},{"s":"D","x":0.35,"y":1.95},{"s":"D","x":0.4,"y":2.0},{"s":"D","x":0.45,"y":1.9},{"s":"D","x":0.5,"y":1.8},{"s":"D","x":0.55,"y":1.55},{"s":"D","x":0.6,"y":1.1},{"s":"D","x":0.65,"y":0.7},{"s":"D","x":0.7,"y":0.45},{"s":"D","x":0.75,"y":0.35},{"s":"D","x":0.8,"y":0.25},{"s":"D","x":0.85,"y":0.2},{"s":"D","x":0.9,"y":0.1},{"s":"D","x":1.0,"y":0.02},{"s":"D","x":1.1,"y":0},
{"s":"E","x":0,"y":0.55},{"s":"E","x":0.1,"y":0.8},{"s":"E","x":0.2,"y":1.1},{"s":"E","x":0.25,"y":1.3},{"s":"E","x":0.3,"y":1.6},{"s":"E","x":0.35,"y":1.85},{"s":"E","x":0.4,"y":2.0},{"s":"E","x":0.43,"y":2.05},{"s":"E","x":0.5,"y":1.85},{"s":"E","x":0.55,"y":1.5},{"s":"E","x":0.6,"y":1.0},{"s":"E","x":0.65,"y":0.65},{"s":"E","x":0.7,"y":0.4},{"s":"E","x":0.75,"y":0.3},{"s":"E","x":0.8,"y":0.2},{"s":"E","x":0.85,"y":0.15},{"s":"E","x":0.9,"y":0.08},{"s":"E","x":1.0,"y":0.02},{"s":"E","x":1.1,"y":0},
{"s":"F","x":0,"y":0.1},{"s":"F","x":0.1,"y":0.15},{"s":"F","x":0.15,"y":0.3},{"s":"F","x":0.2,"y":0.55},{"s":"F","x":0.25,"y":0.85},{"s":"F","x":0.3,"y":1.1},{"s":"F","x":0.35,"y":1.3},{"s":"F","x":0.4,"y":1.45},{"s":"F","x":0.45,"y":1.6},{"s":"F","x":0.5,"y":1.8},{"s":"F","x":0.55,"y":1.95},{"s":"F","x":0.6,"y":1.95},{"s":"F","x":0.65,"y":1.75},{"s":"F","x":0.7,"y":1.5},{"s":"F","x":0.75,"y":1.2},{"s":"F","x":0.8,"y":0.9},{"s":"F","x":0.85,"y":0.6},{"s":"F","x":0.9,"y":0.35},{"s":"F","x":0.95,"y":0.15},{"s":"F","x":1.0,"y":0.05},{"s":"F","x":1.1,"y":0}
]
},
"concat": [
{"title": "Area", "data": {"name": "a_all"}, "transform": [{"lookup": "s", "from": {"data": {"name": "names"}, "key": "s", "fields": ["series"]}}], "width": 285, "height": 209, "mark": "line",
 "encoding": {
  "x": {"field": "x", "type": "quantitative", "scale": {"domain": [0, 1.1], "nice": false, "zero": false}, "axis": {"title": null, "values": [0, 0.2, 0.4, 0.6, 0.8, 1.0], "labels": false}},
  "y": {"field": "y", "type": "quantitative", "scale": {"domain": [0, 10], "nice": false}, "axis": {"title": "All Subjects", "values": [0, 2, 4, 6, 8, 10], "format": "d"}},
  "color": {"field": "series", "type": "nominal", "scale": {"domain": ["MPRAGE1_MPRAGE2", "MPRAGE+PMC1_MPRAGE+PMC2", "MPRAGE1_MPRAGE+PMC1", "MPRAGE1_MPRAGE+PMC2", "MPRAGE2_MPRAGE+PMC1", "MPRAGE2_MPRAGE+PMC2"], "range": ["#1f77b4", "#ff7f0e", "#2ca02c", "#d62728", "#9467bd", "#8c564b"]},
   "legend": {"orient": "top-left", "title": null, "offset": 3, "padding": 3, "strokeColor": "#cccccc", "fillColor": "#ffffff", "cornerRadius": 3, "symbolType": "stroke", "symbolSize": 200, "symbolStrokeWidth": 1.8, "labelFontSize": 7, "labelFont": "DejaVu Sans", "labelColor": "#222222", "rowPadding": -1.7, "labelOffset": 6, "labelLimit": 300}}
 }},
{"title": "Volume", "data": {"name": "v_all"}, "transform": [{"lookup": "s", "from": {"data": {"name": "names"}, "key": "s", "fields": ["series"]}}], "width": 285, "height": 209, "mark": "line",
 "encoding": {
  "x": {"field": "x", "type": "quantitative", "scale": {"domain": [0, 1.1], "nice": false, "zero": false}, "axis": {"title": null, "values": [0, 0.2, 0.4, 0.6, 0.8, 1.0], "labels": false}},
  "y": {"field": "y", "type": "quantitative", "scale": {"domain": [0, 10], "nice": false}, "axis": {"title": null, "values": [0, 2, 4, 6, 8, 10], "format": "d"}},
  "color": {"field": "series", "type": "nominal", "scale": {"domain": ["MPRAGE1_MPRAGE2", "MPRAGE+PMC1_MPRAGE+PMC2", "MPRAGE1_MPRAGE+PMC1", "MPRAGE1_MPRAGE+PMC2", "MPRAGE2_MPRAGE+PMC1", "MPRAGE2_MPRAGE+PMC2"], "range": ["#1f77b4", "#ff7f0e", "#2ca02c", "#d62728", "#9467bd", "#8c564b"]}, "legend": null}
 }},
{"title": "Cortical Thickness", "data": {"name": "c_all"}, "transform": [{"lookup": "s", "from": {"data": {"name": "names"}, "key": "s", "fields": ["series"]}}], "width": 285, "height": 209, "mark": "line",
 "encoding": {
  "x": {"field": "x", "type": "quantitative", "scale": {"domain": [0, 1.1], "nice": false, "zero": false}, "axis": {"title": null, "values": [0, 0.2, 0.4, 0.6, 0.8, 1.0], "labels": false}},
  "y": {"field": "y", "type": "quantitative", "scale": {"domain": [0, 10], "nice": false}, "axis": {"title": null, "values": [0, 2, 4, 6, 8, 10], "format": "d"}},
  "color": {"field": "series", "type": "nominal", "scale": {"domain": ["MPRAGE1_MPRAGE2", "MPRAGE+PMC1_MPRAGE+PMC2", "MPRAGE1_MPRAGE+PMC1", "MPRAGE1_MPRAGE+PMC2", "MPRAGE2_MPRAGE+PMC1", "MPRAGE2_MPRAGE+PMC2"], "range": ["#1f77b4", "#ff7f0e", "#2ca02c", "#d62728", "#9467bd", "#8c564b"]}, "legend": null}
 }},
{"data": {"name": "a_low"}, "transform": [{"lookup": "s", "from": {"data": {"name": "names"}, "key": "s", "fields": ["series"]}}], "width": 285, "height": 209, "mark": "line",
 "encoding": {
  "x": {"field": "x", "type": "quantitative", "scale": {"domain": [0, 1.1], "nice": false, "zero": false}, "axis": {"title": null, "values": [0, 0.2, 0.4, 0.6, 0.8, 1.0], "labels": false}},
  "y": {"field": "y", "type": "quantitative", "scale": {"domain": [0, 10], "nice": false}, "axis": {"title": ["Low-motion", "Subjects"], "values": [0, 2, 4, 6, 8, 10], "format": "d"}},
  "color": {"field": "series", "type": "nominal", "scale": {"domain": ["MPRAGE1_MPRAGE2", "MPRAGE+PMC1_MPRAGE+PMC2", "MPRAGE1_MPRAGE+PMC1", "MPRAGE1_MPRAGE+PMC2", "MPRAGE2_MPRAGE+PMC1", "MPRAGE2_MPRAGE+PMC2"], "range": ["#1f77b4", "#ff7f0e", "#2ca02c", "#d62728", "#9467bd", "#8c564b"]}, "legend": null}
 }},
{"data": {"name": "v_low"}, "transform": [{"lookup": "s", "from": {"data": {"name": "names"}, "key": "s", "fields": ["series"]}}], "width": 285, "height": 209, "mark": "line",
 "encoding": {
  "x": {"field": "x", "type": "quantitative", "scale": {"domain": [0, 1.1], "nice": false, "zero": false}, "axis": {"title": null, "values": [0, 0.2, 0.4, 0.6, 0.8, 1.0], "labels": false}},
  "y": {"field": "y", "type": "quantitative", "scale": {"domain": [0, 10], "nice": false}, "axis": {"title": null, "values": [0, 2, 4, 6, 8, 10], "format": "d"}},
  "color": {"field": "series", "type": "nominal", "scale": {"domain": ["MPRAGE1_MPRAGE2", "MPRAGE+PMC1_MPRAGE+PMC2", "MPRAGE1_MPRAGE+PMC1", "MPRAGE1_MPRAGE+PMC2", "MPRAGE2_MPRAGE+PMC1", "MPRAGE2_MPRAGE+PMC2"], "range": ["#1f77b4", "#ff7f0e", "#2ca02c", "#d62728", "#9467bd", "#8c564b"]}, "legend": null}
 }},
{"data": {"name": "c_low"}, "transform": [{"lookup": "s", "from": {"data": {"name": "names"}, "key": "s", "fields": ["series"]}}], "width": 285, "height": 209, "mark": "line",
 "encoding": {
  "x": {"field": "x", "type": "quantitative", "scale": {"domain": [0, 1.1], "nice": false, "zero": false}, "axis": {"title": null, "values": [0, 0.2, 0.4, 0.6, 0.8, 1.0], "labels": false}},
  "y": {"field": "y", "type": "quantitative", "scale": {"domain": [0, 10], "nice": false}, "axis": {"title": null, "values": [0, 2, 4, 6, 8, 10], "format": "d"}},
  "color": {"field": "series", "type": "nominal", "scale": {"domain": ["MPRAGE1_MPRAGE2", "MPRAGE+PMC1_MPRAGE+PMC2", "MPRAGE1_MPRAGE+PMC1", "MPRAGE1_MPRAGE+PMC2", "MPRAGE2_MPRAGE+PMC1", "MPRAGE2_MPRAGE+PMC2"], "range": ["#1f77b4", "#ff7f0e", "#2ca02c", "#d62728", "#9467bd", "#8c564b"]}, "legend": null}
 }},
{"data": {"name": "a_high"}, "transform": [{"lookup": "s", "from": {"data": {"name": "names"}, "key": "s", "fields": ["series"]}}], "width": 285, "height": 209, "mark": "line",
 "encoding": {
  "x": {"field": "x", "type": "quantitative", "scale": {"domain": [0, 1.1], "nice": false, "zero": false}, "axis": {"title": null, "values": [0, 0.2, 0.4, 0.6, 0.8, 1.0], "format": ".1f"}},
  "y": {"field": "y", "type": "quantitative", "scale": {"domain": [0, 10], "nice": false}, "axis": {"title": ["High-motion", "Subjects"], "values": [0, 2, 4, 6, 8, 10], "format": "d"}},
  "color": {"field": "series", "type": "nominal", "scale": {"domain": ["MPRAGE1_MPRAGE2", "MPRAGE+PMC1_MPRAGE+PMC2", "MPRAGE1_MPRAGE+PMC1", "MPRAGE1_MPRAGE+PMC2", "MPRAGE2_MPRAGE+PMC1", "MPRAGE2_MPRAGE+PMC2"], "range": ["#1f77b4", "#ff7f0e", "#2ca02c", "#d62728", "#9467bd", "#8c564b"]}, "legend": null}
 }},
{"data": {"name": "v_high"}, "transform": [{"lookup": "s", "from": {"data": {"name": "names"}, "key": "s", "fields": ["series"]}}], "width": 285, "height": 209, "mark": "line",
 "encoding": {
  "x": {"field": "x", "type": "quantitative", "scale": {"domain": [0, 1.1], "nice": false, "zero": false}, "axis": {"title": null, "values": [0, 0.2, 0.4, 0.6, 0.8, 1.0], "format": ".1f"}},
  "y": {"field": "y", "type": "quantitative", "scale": {"domain": [0, 10], "nice": false}, "axis": {"title": null, "values": [0, 2, 4, 6, 8, 10], "format": "d"}},
  "color": {"field": "series", "type": "nominal", "scale": {"domain": ["MPRAGE1_MPRAGE2", "MPRAGE+PMC1_MPRAGE+PMC2", "MPRAGE1_MPRAGE+PMC1", "MPRAGE1_MPRAGE+PMC2", "MPRAGE2_MPRAGE+PMC1", "MPRAGE2_MPRAGE+PMC2"], "range": ["#1f77b4", "#ff7f0e", "#2ca02c", "#d62728", "#9467bd", "#8c564b"]}, "legend": null}
 }},
{"data": {"name": "c_high"}, "transform": [{"lookup": "s", "from": {"data": {"name": "names"}, "key": "s", "fields": ["series"]}}], "width": 285, "height": 209, "mark": "line",
 "encoding": {
  "x": {"field": "x", "type": "quantitative", "scale": {"domain": [0, 1.1], "nice": false, "zero": false}, "axis": {"title": null, "values": [0, 0.2, 0.4, 0.6, 0.8, 1.0], "format": ".1f"}},
  "y": {"field": "y", "type": "quantitative", "scale": {"domain": [0, 10], "nice": false}, "axis": {"title": null, "values": [0, 2, 4, 6, 8, 10], "format": "d"}},
  "color": {"field": "series", "type": "nominal", "scale": {"domain": ["MPRAGE1_MPRAGE2", "MPRAGE+PMC1_MPRAGE+PMC2", "MPRAGE1_MPRAGE+PMC1", "MPRAGE1_MPRAGE+PMC2", "MPRAGE2_MPRAGE+PMC1", "MPRAGE2_MPRAGE+PMC2"], "range": ["#1f77b4", "#ff7f0e", "#2ca02c", "#d62728", "#9467bd", "#8c564b"]}, "legend": null}
 }}
]
}
